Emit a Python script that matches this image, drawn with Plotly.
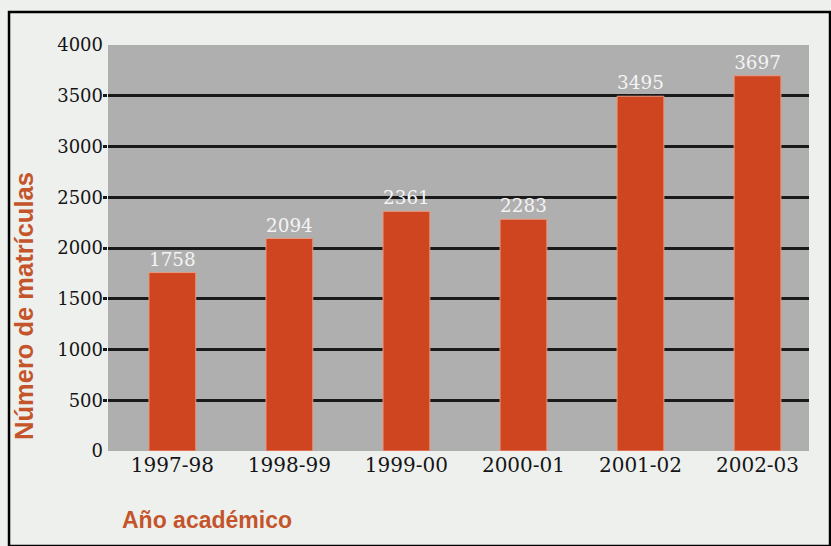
import plotly.graph_objects as go

categories = ["1997-98", "1998-99", "1999-00", "2000-01", "2001-02", "2002-03"]
values = [1758, 2094, 2361, 2283, 3495, 3697]
y_ticks = [0, 500, 1000, 1500, 2000, 2500, 3000, 3500, 4000]
grid_vals = [500, 1000, 1500, 2000, 2500, 3000, 3500]

BAR = "#cf4520"
TITLE = "#c4552b"
PAPER = "#eef0ee"
PLOT = "#afafaf"

fig = go.Figure(go.Bar(
    x=list(range(len(categories))),
    y=values,
    width=0.40,
    marker=dict(color=BAR, line=dict(color="#e89a80", width=1)),
    text=[str(v) for v in values],
    textposition="outside",
    textfont=dict(family="DejaVu Serif", size=19, color="#f4f4f4"),
    cliponaxis=False,
))

fig.update_layout(
    width=831, height=546,
    margin=dict(l=108, r=22, t=45, b=95),
    paper_bgcolor=PAPER,
    plot_bgcolor=PLOT,
    showlegend=False,
    xaxis=dict(
        tickmode="array",
        tickvals=list(range(len(categories))),
        ticktext=categories,
        range=[-0.55, 5.44],
        showgrid=False, zeroline=False, showline=False,
        tickfont=dict(family="DejaVu Serif", size=20, color="#151515"),
        ticks="",
    ),
    yaxis=dict(
        range=[0, 4000],
        tickmode="array",
        tickvals=y_ticks,
        ticktext=[str(v) for v in y_ticks],
        showgrid=False, zeroline=False, showline=False,
        ticks="",
        ticklabelstandoff=4,
        tickfont=dict(family="DejaVu Serif", size=18, color="#151515"),
        minor=dict(
            tickmode="array",
            tickvals=grid_vals,
            showgrid=True,
            gridcolor="#1a1a1a",
            gridwidth=2.5,
            ticks="outside",
            ticklen=4,
            tickwidth=2.5,
            tickcolor="#1a1a1a",
        ),
    ),
    annotations=[
        dict(text="<b>Número de matrículas</b>", xref="paper", yref="paper",
             x=-0.12, y=0.357, xanchor="center", yanchor="middle",
             textangle=-90, showarrow=False,
             font=dict(family="Liberation Sans", size=25.5, color=TITLE)),
        dict(text="<b>Año académico</b>", xref="paper", yref="paper",
             x=0.017, y=-0.17, xanchor="left", yanchor="middle",
             showarrow=False,
             font=dict(family="Liberation Sans", size=23, color=TITLE)),
    ],
    shapes=[
        dict(type="rect", xref="paper", yref="paper",
             x0=-0.1412, x1=1.03, y0=-0.234, y1=1.081,
             line=dict(color="black", width=2.5), fillcolor="rgba(0,0,0,0)",
             layer="above"),
    ],
)

fig.write_html("out.html")
